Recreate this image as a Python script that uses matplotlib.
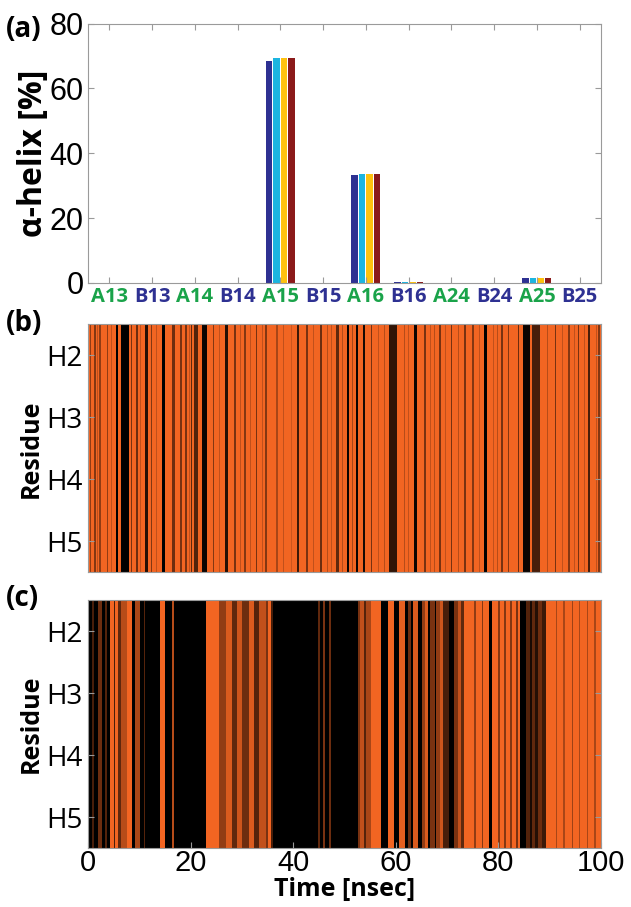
import numpy as np
import matplotlib
matplotlib.use("Agg")
import matplotlib.pyplot as plt
from matplotlib.colors import LinearSegmentedColormap

# alpha-helix content per residue, one list per run
residues = ["A13", "B13", "A14", "B14", "A15", "B15", "A16", "B16", "A24", "B24", "A25", "B25"]
helix_run1 = [0, 0, 0, 0, 68.5, 0, 33.2, 0.15, 0, 0, 1.5, 0]
helix_run2 = [0, 0, 0, 0, 69.5, 0, 33.6, 0.15, 0, 0, 1.5, 0]
helix_run3 = [0, 0, 0, 0, 69.5, 0, 33.6, 0.15, 0, 0, 1.5, 0]
helix_run4 = [0, 0, 0, 0, 69.5, 0, 33.6, 0.15, 0, 0, 1.5, 0]
run_colors = ["#2e3192", "#1cb5e0", "#ffc20e", "#8b1a1a"]

rows = ["H2", "H3", "H4", "H5"]
t_max = 100.0

# (b): mostly ordered, dark stripes (start, end, level) on an orange background
b_base = 1.0
b_stripes = [
    (0.3, 0.6, 0.6), (1.2, 1.5, 0.55), (1.8, 2.0, 0.8), (2.2, 2.5, 0.6),
    (3.6, 3.9, 0.6), (4.5, 4.7, 0.8), (5.5, 5.9, 0.0), (6.4, 7.9, 0.0),
    (8.3, 8.5, 0.5), (9.3, 9.7, 0.45), (10.2, 10.4, 0.8), (11.1, 11.7, 0.15),
    (12.3, 12.5, 0.55), (13.2, 13.4, 0.8), (14.4, 15.0, 0.0), (16.4, 16.9, 0.45),
    (17.9, 18.2, 0.5), (18.9, 19.2, 0.5), (19.6, 19.8, 0.8), (20.0, 20.3, 0.4),
    (20.6, 21.4, 0.35), (22.1, 23.2, 0.05), (24.3, 24.6, 0.55), (25.5, 25.7, 0.8),
    (26.7, 27.3, 0.15), (28.4, 28.7, 0.5), (29.5, 29.7, 0.8), (30.4, 30.7, 0.55),
    (31.5, 31.7, 0.8), (32.6, 32.9, 0.5), (33.8, 34.0, 0.8), (34.5, 34.8, 0.55),
    (36.6, 36.9, 0.7), (38.0, 38.2, 0.8), (39.5, 39.7, 0.85), (40.6, 41.0, 0.25),
    (42.5, 42.8, 0.5), (43.8, 44.0, 0.8), (45.1, 45.5, 0.45), (46.5, 46.7, 0.75),
    (47.3, 47.5, 0.8), (48.3, 48.8, 0.4), (49.5, 49.7, 0.75), (50.3, 50.7, 0.05),
    (51.3, 51.5, 0.7), (52.2, 52.6, 0.05), (53.5, 53.9, 0.1), (55.0, 55.3, 0.5),
    (56.5, 56.7, 0.8), (57.5, 57.7, 0.75), (58.5, 60.1, 0.2), (61.5, 61.7, 0.75),
    (62.3, 62.5, 0.8), (63.5, 64.0, 0.05), (65.4, 65.7, 0.5), (66.5, 66.7, 0.8),
    (67.3, 67.5, 0.75), (68.3, 68.6, 0.5), (69.5, 69.7, 0.8), (70.6, 70.9, 0.5),
    (72.0, 72.2, 0.75), (73.2, 73.5, 0.5), (74.8, 75.1, 0.55), (76.0, 76.2, 0.8),
    (77.1, 77.6, 0.0), (78.8, 79.0, 0.8), (79.6, 79.8, 0.75), (80.4, 80.7, 0.5),
    (81.7, 82.0, 0.55), (83.6, 83.9, 0.45), (84.6, 86.0, 0.05), (86.3, 88.0, 0.3),
    (89.3, 89.5, 0.75), (90.8, 91.1, 0.5), (92.2, 92.4, 0.8), (93.4, 93.7, 0.55),
    (94.5, 94.7, 0.8), (95.3, 95.6, 0.5), (96.5, 96.7, 0.8), (97.3, 97.7, 0.3),
    (98.8, 99.0, 0.8), (99.3, 99.6, 0.55),
]

# (c): mostly disordered, bright stripes on a black background
c_base = 0.0
c_stripes = [
    (0.8, 1.1, 0.3), (2.0, 2.7, 0.45), (3.3, 3.6, 0.35), (4.3, 5.9, 1.0),
    (5.0, 5.2, 0.3), (5.9, 6.4, 0.4), (6.4, 7.5, 0.75), (7.5, 8.5, 1.0),
    (9.2, 10.2, 0.7), (10.8, 11.1, 0.35), (14.1, 15.0, 1.0), (16.3, 16.8, 0.75),
    (22.9, 25.5, 1.0), (25.5, 26.8, 0.6), (26.8, 28.1, 0.9), (28.1, 29.0, 0.4),
    (29.0, 30.0, 0.85), (30.0, 31.3, 0.45), (31.3, 32.3, 0.9), (32.3, 33.3, 0.35),
    (33.3, 34.6, 0.8), (34.6, 35.0, 0.5), (35.0, 35.6, 1.0), (35.6, 35.9, 0.3),
    (44.8, 45.2, 0.4), (45.8, 46.2, 0.5), (46.8, 47.2, 0.45), (52.5, 53.0, 0.5),
    (53.0, 53.6, 0.8), (53.6, 54.0, 0.35), (54.0, 55.1, 0.7), (55.1, 57.0, 1.0),
    (58.3, 59.6, 1.0), (60.6, 61.6, 0.95), (62.2, 62.9, 0.45), (63.2, 64.2, 0.9),
    (64.9, 65.5, 0.6), (65.5, 66.2, 0.9), (66.5, 67.5, 0.5), (67.8, 68.4, 0.6),
    (68.5, 69.0, 0.85), (69.0, 70.2, 0.3), (71.3, 71.9, 0.5), (71.9, 72.6, 0.8),
    (72.6, 73.2, 0.4), (73.2, 78.0, 1.0), (75.1, 75.4, 0.6), (76.6, 76.9, 0.55),
    (78.6, 84.0, 1.0), (79.8, 80.1, 0.55), (81.0, 81.3, 0.55), (82.1, 82.4, 0.55),
    (83.3, 83.6, 0.5), (85.3, 85.9, 0.35), (85.9, 86.3, 0.1), (86.3, 87.0, 0.4),
    (87.0, 87.5, 0.15), (87.5, 88.3, 0.45), (88.3, 89.2, 0.25), (89.2, 100.0, 1.0),
    (91.0, 91.3, 0.7), (92.5, 92.8, 0.7), (94.1, 94.4, 0.65), (95.5, 95.8, 0.7),
    (97.0, 97.3, 0.7), (98.5, 98.8, 0.7),
]


def raster(base, stripes, n_cols=2000):
    """Build a rows x time matrix of helix levels from stripe segments."""
    t = (np.arange(n_cols) + 0.5) * t_max / n_cols
    line = np.full(n_cols, base)
    for start, end, level in stripes:
        line[(t >= start) & (t < end)] = level
    return np.tile(line, (len(rows), 1))


plt.rcParams["font.family"] = ["Open Sans", "DejaVu Sans"]
plt.rcParams["xtick.direction"] = "in"
plt.rcParams["ytick.direction"] = "in"
num_font = ["Liberation Sans", "DejaVu Sans"]
frame_color = "#9a9a9a"

fig = plt.figure(figsize=(6.31, 9.07), dpi=100)
ax_a = fig.add_axes((0.1395, 0.6880, 0.813, 0.2860))
ax_b = fig.add_axes((0.1395, 0.3690, 0.813, 0.2734))
ax_c = fig.add_axes((0.1395, 0.0650, 0.813, 0.2734))

# panel (a): grouped bars
x = np.arange(len(residues))
step, width = 0.175, 0.15
for i, (vals, col) in enumerate(zip([helix_run1, helix_run2, helix_run3, helix_run4], run_colors)):
    ax_a.bar(x + (i - 1.5) * step, vals, width=width, color=col, linewidth=0)
ax_a.set_xlim(-0.5, len(residues) - 0.5)
ax_a.set_ylim(0, 80)
ax_a.set_yticks([0, 20, 40, 60, 80])
ax_a.set_yticklabels(["0", "20", "40", "60", "80"], family=num_font, fontsize=22)
ax_a.set_xticks(x)
ax_a.set_xticklabels(residues, fontsize=14.5, fontweight="bold")
for lbl, name in zip(ax_a.get_xticklabels(), residues):
    lbl.set_color("#1aa34a" if name.startswith("A") else "#2e3192")
ax_a.tick_params(axis="both", top=True, right=True, length=4, color=frame_color, pad=3)
ax_a.tick_params(axis="y", pad=3)
ax_a.set_ylabel("α-helix [%]", fontsize=23, fontweight="bold", labelpad=0)

cmap = LinearSegmentedColormap.from_list("helix", ["#000000", "#f26522"])
for ax, base, stripes in ((ax_b, b_base, b_stripes), (ax_c, c_base, c_stripes)):
    ax.imshow(raster(base, stripes), cmap=cmap, vmin=0, vmax=1, aspect="auto",
              interpolation="nearest", extent=(0, t_max, 5.5, 1.5))
    ax.set_yticks([2, 3, 4, 5])
    ax.set_yticklabels(rows, fontsize=20)
    ax.tick_params(axis="y", right=True, length=4, color=frame_color, pad=4)
    ax.set_ylabel("Residue", fontsize=18, fontweight="bold", labelpad=2)
    ax.set_xlim(0, t_max)

ax_b.set_xticks([])
ax_c.set_xticks([0, 20, 40, 60, 80, 100])
ax_c.set_xticklabels(["0", "20", "40", "60", "80", "100"], family=num_font, fontsize=21)
ax_c.tick_params(axis="x", length=4, color=frame_color, pad=1)
ax_c.set_xlabel("Time [nsec]", fontsize=18, fontweight="bold", labelpad=0)

for ax in (ax_a, ax_b, ax_c):
    for sp in ax.spines.values():
        sp.set_color(frame_color)
        sp.set_linewidth(0.8)

fig.text(0.01, 0.968, "(a)", fontsize=20, fontweight="bold", va="center")
fig.text(0.01, 0.643, "(b)", fontsize=20, fontweight="bold", va="center")
fig.text(0.01, 0.340, "(c)", fontsize=20, fontweight="bold", va="center")

fig.savefig("out.png", dpi=100)
